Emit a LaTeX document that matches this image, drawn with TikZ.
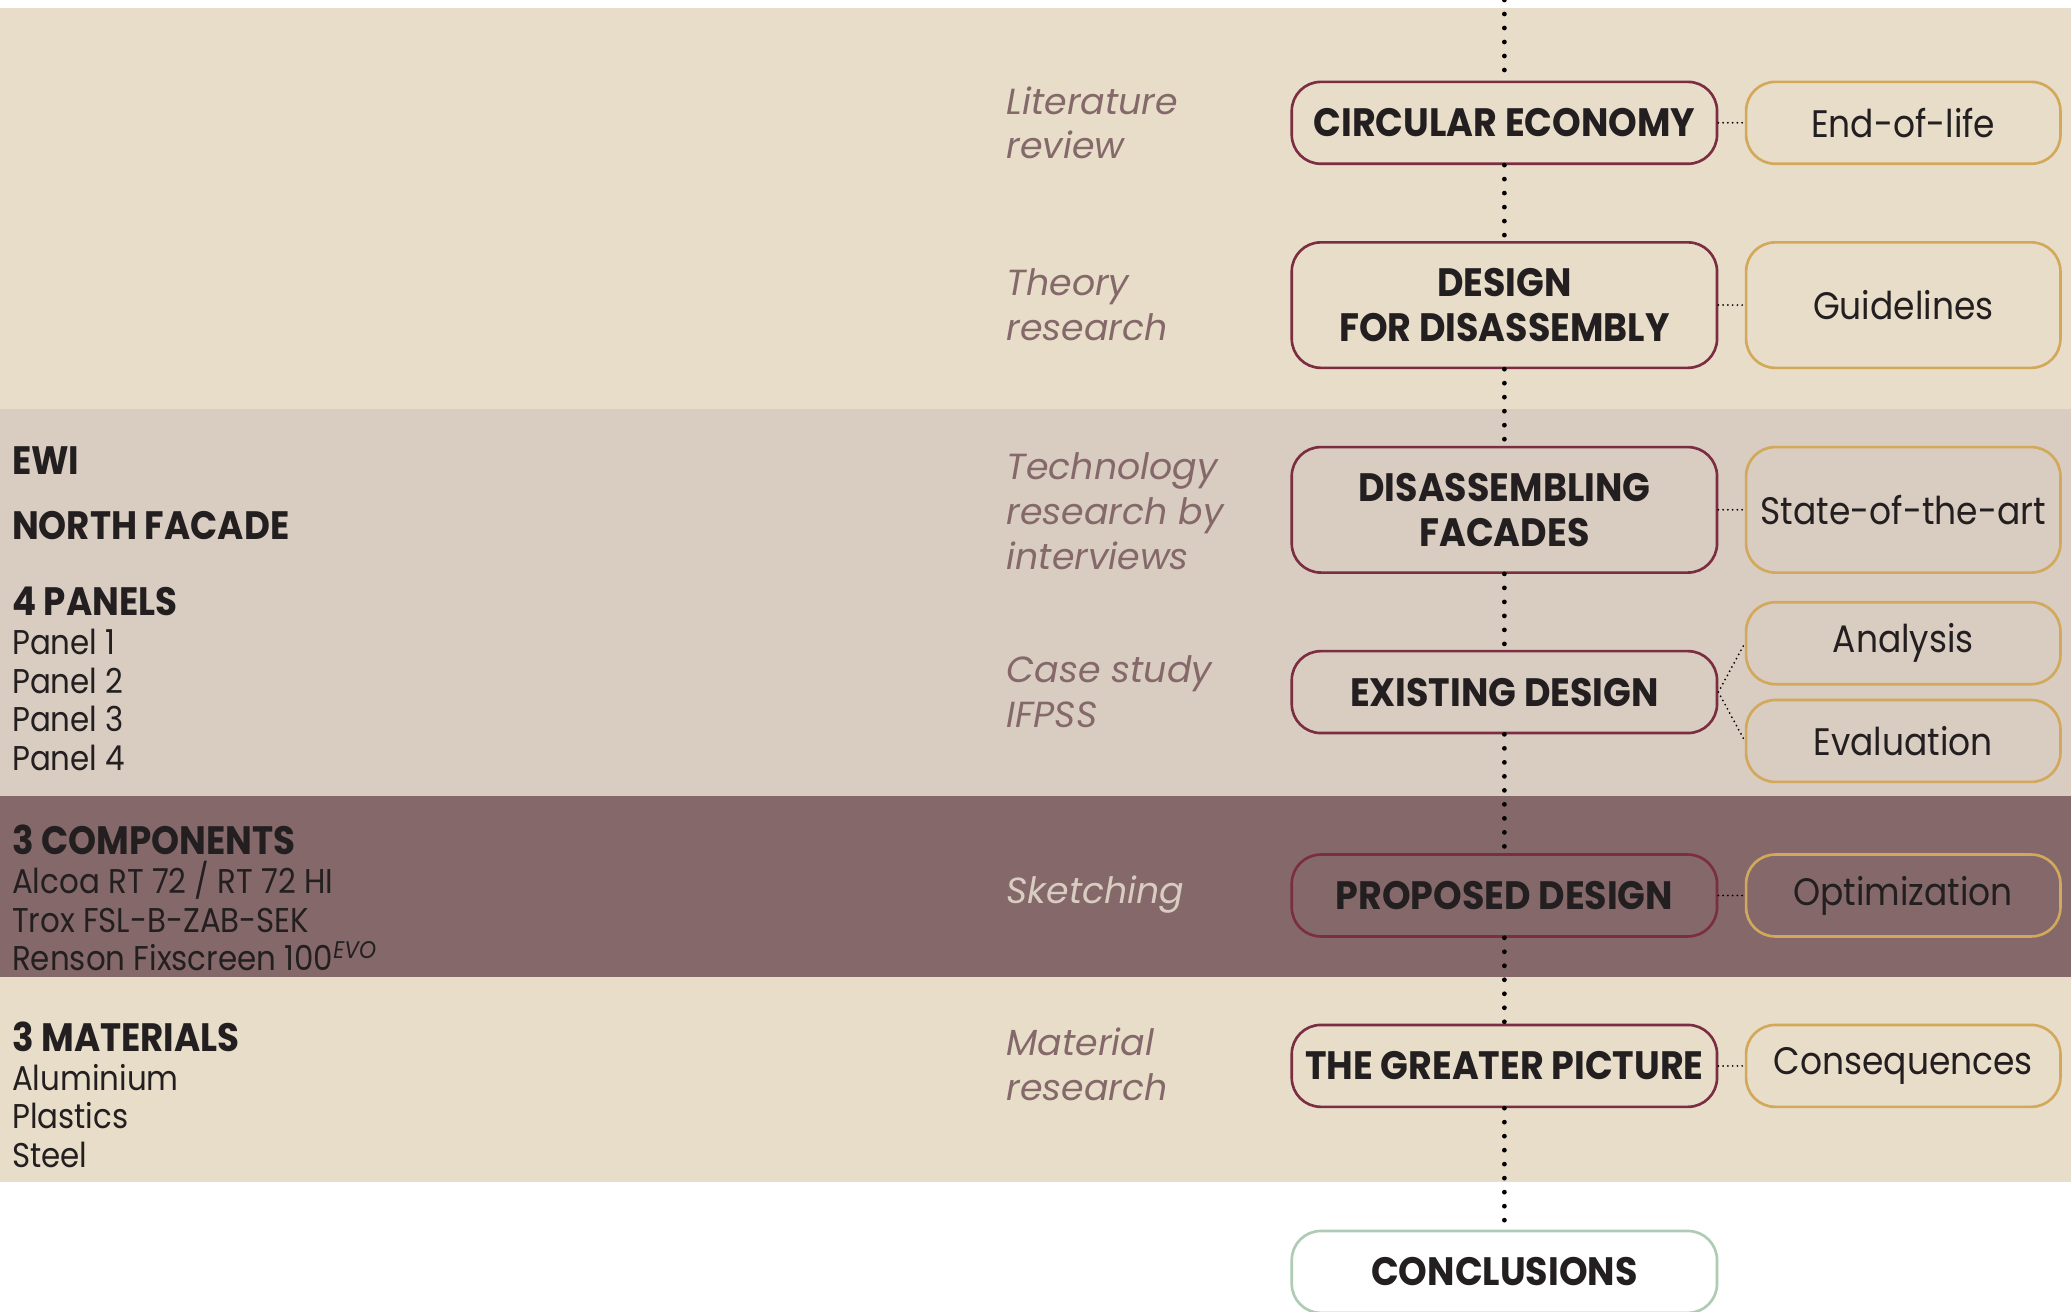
\documentclass[tikz,border=0pt]{standalone}
\usepackage{fontspec}
\setmainfont{Poppins}[FakeStretch=0.9]
\newfontfamily\stagefont[FakeStretch=0.92]{Poppins}
\newfontfamily\methodfont{Poppins}
\usetikzlibrary{positioning}

\definecolor{sand}{HTML}{E8DDC9}
\definecolor{stone}{HTML}{D9CCC0}
\definecolor{plum}{HTML}{84686A}
\definecolor{wine}{HTML}{7B2D42}
\definecolor{ochre}{HTML}{D4A85B}
\definecolor{sage}{HTML}{AECBB4}
\definecolor{ink}{HTML}{231F20}

\newcommand\grouphead[1]{{\bfseries\fontsize{30}{29.3}\selectfont #1}}

\tikzset{stage/.style={draw=wine, line width=2pt, rounded corners=22pt, minimum width=322pt, minimum height=62pt, align=center, text=ink, font=\stagefont\bfseries\fontsize{30}{34}\selectfont},
  aspect/.style={draw=ochre, line width=2pt, rounded corners=22pt, minimum width=238pt, minimum height=62pt, align=center, text=ink, font=\fontsize{29}{34}\selectfont},
  method/.style={anchor=west, align=left, inner sep=0pt, text=plum, font=\methodfont\itshape\fontsize{27.5}{34}\selectfont},
  info/.style={anchor=west, align=left, inner sep=0pt, text=ink, font=\fontsize{26}{29.3}\selectfont},
  spine/.style={line width=3.6pt, line cap=round, dash pattern=on 0pt off 10.6pt},
  link/.style={line width=1.5pt, line cap=round, dash pattern=on 0pt off 3.6pt}}

\begin{document}
\begin{tikzpicture}[x=1pt, y=1pt]
    \useasboundingbox (0,0) rectangle (1568,-993);
    \fill[white] (0,0) rectangle (1568,-993);

    % bands
    \fill[sand] (0,-6) rectangle (1568,-310);
    \fill[stone] (0,-310) rectangle (1568,-603);
    \fill[plum] (0,-603) rectangle (1568,-740);
    \fill[sand] (0,-740) rectangle (1568,-895);

    % main stages
    \node[stage] (ce) at (1139,-93) {CIRCULAR ECONOMY};
    \node[stage, minimum height=95pt] (dfd) at (1139,-231) {DESIGN\\FOR DISASSEMBLY};
    \node[stage, minimum height=95pt] (daf) at (1139,-386) {DISASSEMBLING\\FACADES};
    \node[stage] (exd) at (1139,-524) {EXISTING DESIGN};
    \node[stage] (prd) at (1139,-678) {PROPOSED DESIGN};
    \node[stage] (tgp) at (1139,-807) {THE GREATER PICTURE};
    \node[stage, draw=sage, fill=white] (con) at (1139,-963) {CONCLUSIONS};

    % outcomes
    \node[aspect, right=20pt of ce] (eol) {End-of-life};
    \node[aspect, minimum height=95pt, right=20pt of dfd] (gl) {Guidelines};
    \node[aspect, minimum height=95pt, right=20pt of daf] (sota) {State-of-the-art};
    \node[aspect] (ana) at (1441,-487) {Analysis};
    \node[aspect] (eva) at (1441,-561) {Evaluation};
    \node[aspect, right=20pt of prd] (opt) {Optimization};
    \node[aspect, right=20pt of tgp] (csq) {Consequences};

    % methods
    \node[method] (lit) at (762,-93) {Literature\\review};
    \node[method] (theo) at (762,-231) {Theory\\research};
    \node[method] (tech) at (762,-387) {Technology\\research by\\interviews};
    \node[method] (case) at (762,-524) {Case study\\IFPSS};
    \node[method, text=stone] (sketch) at (762,-677) {Sketching};
    \node[method] (mat) at (762,-806) {Material\\research};

    % case description
    \node[info] (ewi) at (9,-349) {\grouphead{EWI}};
    \node[info] (facade) at (9,-398) {\grouphead{NORTH FACADE}};
    \node[info] (panels) at (9,-514) {\grouphead{4 PANELS}\\Panel 1\\Panel 2\\Panel 3\\Panel 4};
    \node[info] (comps) at (9,-680) {\grouphead{3 COMPONENTS}\\Alcoa RT 72 / RT 72 HI\\Trox FSL-B-ZAB-SEK\\Renson Fixscreen 100\textsuperscript{\itshape EVO}};
    \node[info] (mats) at (9,-829) {\grouphead{3 MATERIALS}\\Aluminium\\Plastics\\Steel};

    \coordinate (top) at (1139,0);
    \draw[spine] (top) -- (ce.north)
                 (ce.south) -- (dfd.north)
                 (dfd.south) -- (daf.north)
                 (daf.south) -- (exd.north)
                 (exd.south) -- (prd.north)
                 (prd.south) -- (tgp.north)
                 (tgp.south) -- (con.north);
    \draw[link] (ce.east) -- (eol.west)
                (dfd.east) -- (gl.west)
                (daf.east) -- (sota.west)
                (exd.east) -- (ana.west)
                (exd.east) -- (eva.west)
                (prd.east) -- (opt.west)
                (tgp.east) -- (csq.west);
\end{tikzpicture}
\end{document}
